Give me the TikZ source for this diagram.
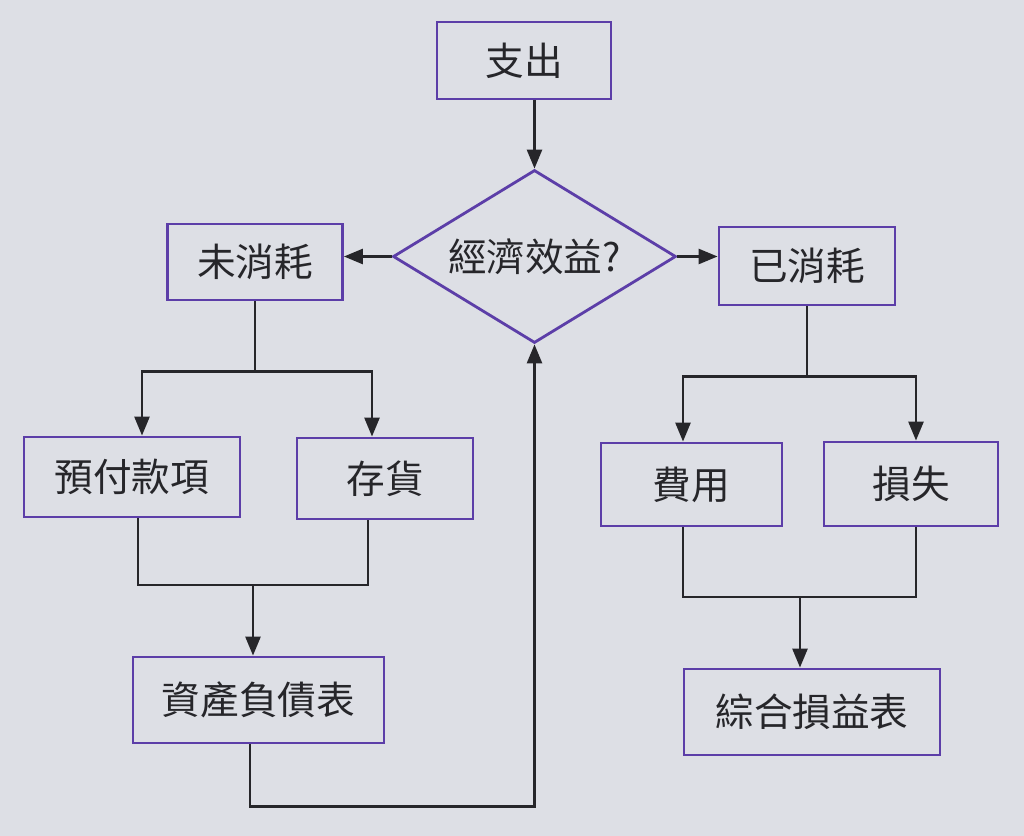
\documentclass[tikz,border=0pt]{standalone}
\usepackage{fontspec}
\setmainfont{Noto Sans CJK TC}
\usepackage{tikz}
\usetikzlibrary{arrows.meta,calc,shapes.geometric}
\definecolor{boxpurple}{RGB}{92,62,168}
\definecolor{paper}{RGB}{221,223,229}
\definecolor{ink}{RGB}{38,38,42}

\begin{document}
\begin{tikzpicture}[>={Triangle[length=0.38cm,width=0.3cm]},font=\fontsize{22}{26}\selectfont]
\tikzstyle{box}=[draw=boxpurple,line width=1.6pt,minimum width=3.5cm,minimum height=1.56cm,inner sep=2pt,text=ink]
\tikzstyle{decide}=[draw=boxpurple,line width=1.6pt,diamond,aspect=1.64,minimum width=5.66cm,minimum height=3.46cm,inner sep=0pt,text=ink]
\tikzstyle{flow}=[draw=ink,line width=1.5pt]
\fill[paper] (0,0) rectangle (20.48,-16.72);
\useasboundingbox (0,0) rectangle (20.48,-16.72);
% top of the chart
\node[box,minimum width=3.48cm,minimum height=1.54cm] (spend) at (10.48,-1.21) {支出};
\node[decide] (benefit) at (10.69,-5.13) {經濟效益?};
\node[box,minimum height=1.52cm] (unused) at (5.10,-5.24) {未消耗};
\node[box,minimum width=3.52cm] (used) at (16.14,-5.32) {已消耗};
% second row
\node[box,minimum width=4.32cm,minimum height=1.6cm] (prepaid) at (2.64,-9.54) {預付款項};
\node[box,minimum width=3.52cm,minimum height=1.62cm] (stock) at (7.70,-9.57) {存貨};
\node[box,minimum width=3.62cm,minimum height=1.66cm] (expense) at (13.83,-9.69) {費用};
\node[box,minimum width=3.48cm,minimum height=1.68cm] (loss) at (18.22,-9.68) {損失};
% statements
\node[box,minimum width=5.02cm,minimum height=1.72cm] (balance) at (5.17,-14.00) {資產負債表};
\node[box,minimum width=5.12cm,minimum height=1.72cm] (income) at (16.24,-14.24) {綜合損益表};
\draw[flow,->] (benefit.north |- spend.south) -- (benefit.north);
\draw[flow,->] (benefit.west) -- (benefit.west -| unused.east);
\draw[flow,->] (benefit.east) -- (benefit.east -| used.west);
% splits
\draw[flow] (unused.south) -- ++(0,-1.4) coordinate (usplit);
\draw[flow,->] (usplit) -| ([xshift=0.2cm]prepaid.north);
\draw[flow,->] (usplit) -| ([xshift=-0.26cm]stock.north);
\draw[flow] (used.south) -- ++(0,-1.4) coordinate (dsplit);
\draw[flow,->] (dsplit) -| ([xshift=-0.17cm]expense.north);
\draw[flow,->] (dsplit) -| ([xshift=0.1cm]loss.north);
% joins
\coordinate (ljoin) at (5.06,-11.70);
\draw[flow] ([xshift=0.12cm]prepaid.south) |- (ljoin) -| ([xshift=-0.34cm]stock.south);
\draw[flow,->] (ljoin) -- (ljoin |- balance.north);
\coordinate (rjoin) at (16.0,-11.94);
\draw[flow] ([xshift=-0.17cm]expense.south) |- (rjoin) -| ([xshift=0.1cm]loss.south);
\draw[flow,->] (rjoin) -- (rjoin |- income.north);
% back to the question
\draw[flow,->] ([xshift=-0.17cm]balance.south) -- ++(0,-1.24) -| (benefit.south);
\end{tikzpicture}
\end{document}
